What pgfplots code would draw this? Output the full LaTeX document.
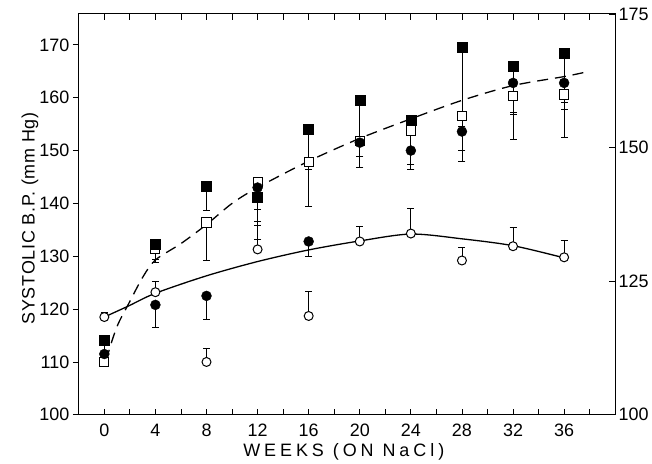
\documentclass[border=0pt]{standalone}
\usepackage{fontspec}
\setmainfont{Liberation Sans}
\usepackage{pgfplots}
\pgfplotsset{compat=1.18}
\newcommand{\lab}{\fontsize{18}{20}\selectfont}
\begin{document}
\begin{tikzpicture}
\pgfplotsset{
  ebar/.style={error bars/.cd, y dir=both, y explicit,
    error bar style={line width=0.8pt, black},
    error mark options={rotate=90, mark size=3.5pt, line width=0.8pt, black}},
  ocirc/.style={only marks, mark=*, mark size=4.5pt, mark options={fill=white, draw=black, line width=1pt}, ebar},
  fcirc/.style={only marks, mark=*, mark size=5pt, mark options={fill=black, draw=black}, ebar},
  osq/.style={only marks, mark=square*, mark size=4.6pt, mark options={fill=white, draw=black, line width=1pt}, ebar},
  fsq/.style={only marks, mark=square*, mark size=5pt, mark options={fill=black, draw=black}, ebar},
}
\begin{axis}[
  scale only axis, width=538pt, height=402pt,
  xmin=-2, xmax=40, ymin=100, ymax=175.85,
  xtick={0,4,...,36}, minor xtick={2,6,...,38},
  ytick={100,110,...,170},
  xtick pos=both, ytick pos=left,
  xtick align=inside, ytick align=outside,
  major tick length=6pt, minor tick length=6pt,
  tick style={line width=0.8pt, black},
  axis line style={line width=1pt},
  tick label style={font=\lab},
  /pgf/number format/assume math mode=true,
  xticklabel style={yshift=-6pt},
  xlabel={\addfontfeature{LetterSpace=22}WEEKS (ON NaCl)},
  ylabel={\addfontfeature{LetterSpace=4}SYSTOLIC B.P. (mm Hg)},
  every axis x label/.style={at={(axis description cs:0.494,-0.092)}, anchor=center, font=\lab},
  every axis y label/.style={at={(axis description cs:-0.091,0.49)}, rotate=90, anchor=center, font=\lab},
  clip=false,
]
\coordinate (bl) at (rel axis cs:0,0);
\coordinate (tr) at (rel axis cs:1,1);
% fitted curves
\addplot[line width=1.3pt, smooth, tension=0.5] coordinates {
  (0,118.5) (1.9,120.6) (4,123) (8,126.3) (12,129) (16,131.2) (20,132.9)
  (24,134.2) (28,133.3) (32,132) (36,129.7)};
\addplot[line width=1.3pt, dash pattern=on 11pt off 7pt, smooth, tension=0.5] coordinates {
  (0.15,110.3) (0.6,114) (1.1,117.3) (1.9,121) (3,126) (4,129.3) (6,132.4) (8,136)
  (10,140) (12,143) (16,148) (20,152.3) (24,156) (28,159.5) (32,162.3) (36,164) (37.6,164.8)};
% open squares
\addplot[osq] coordinates {
  (0,110) += (0,4) -= (0,0)
  (4,131.3) += (0,0) -= (0,2.5)
  (8,136.4) += (0,0) -= (0,7.2)
  (12,144) += (0,0) -= (0,10.8)
  (16,147.9) += (0,0) -= (0,8.5)
  (20,151.8) += (0,0) -= (0,5)
  (24,153.8) += (0,0) -= (0,6.4)
  (28,156.5) += (0,0) -= (0,6.5)
  (32,160.4) += (0,0) -= (0,8.3)
  (36,160.6) += (0,0) -= (0,8.1)};
% filled squares
\addplot[fsq] coordinates {
  (0,114.2) += (0,0) -= (0,5)
  (4,132.3) += (0,0) -= (0,2.9)
  (8,143.2) += (0,0) -= (0,4.5)
  (12,141.1) += (0,0) -= (0,4.5)
  (16,154) += (0,0) -= (0,7.5)
  (20,159.5) += (0,0) -= (0,8.5)
  (24,155.8) += (0,0) -= (0,9.4)
  (28,169.5) += (0,0) -= (0,15)
  (32,166) += (0,0) -= (0,9.2)
  (36,168.5) += (0,0) -= (0,9.4)};
% filled circles
\addplot[fcirc] coordinates {
  (0,111.5) += (0,0) -= (0,0)
  (4,120.8) += (0,0) -= (0,4.2)
  (8,122.5) += (0,0) -= (0,4.4)
  (12,143) += (0,0) -= (0,4.1)
  (16,132.8) += (0,0) -= (0,2.8)
  (20,151.5) += (0,0) -= (0,2.6)
  (24,150) += (0,0) -= (0,3.6)
  (28,153.6) += (0,0) -= (0,5.7)
  (32,162.8) += (0,0) -= (0,5.6)
  (36,162.8) += (0,0) -= (0,5.1)};
% open circles
\addplot[ocirc] coordinates {
  (0,118.5) += (0,0.8) -= (0,0)
  (4,123.2) += (0,2.1) -= (0,0)
  (8,110) += (0,2.5) -= (0,0)
  (12,131.3) += (0,4.5) -= (0,0)
  (16,118.7) += (0,4.7) -= (0,0)
  (20,132.8) += (0,2.9) -= (0,0)
  (24,134.3) += (0,4.7) -= (0,0)
  (28,129.2) += (0,2.5) -= (0,0)
  (32,131.9) += (0,3.6) -= (0,0)
  (36,129.8) += (0,3.2) -= (0,0)};
\end{axis}
\begin{axis}[
  scale only axis, width=538pt, height=402pt,
  xmin=-2, xmax=40, ymin=100, ymax=175,
  hide x axis, axis y line*=right,
  ytick={100,125,150,175},
  ytick align=inside, major tick length=6pt,
  tick style={line width=0.8pt, black},
  axis line style={line width=1pt},
  tick label style={font=\lab},
  /pgf/number format/assume math mode=true,
]
\end{axis}
\path ([shift={(-79pt,-47pt)}]bl) rectangle ([shift={(35pt,14pt)}]tr);
\end{tikzpicture}
\end{document}
